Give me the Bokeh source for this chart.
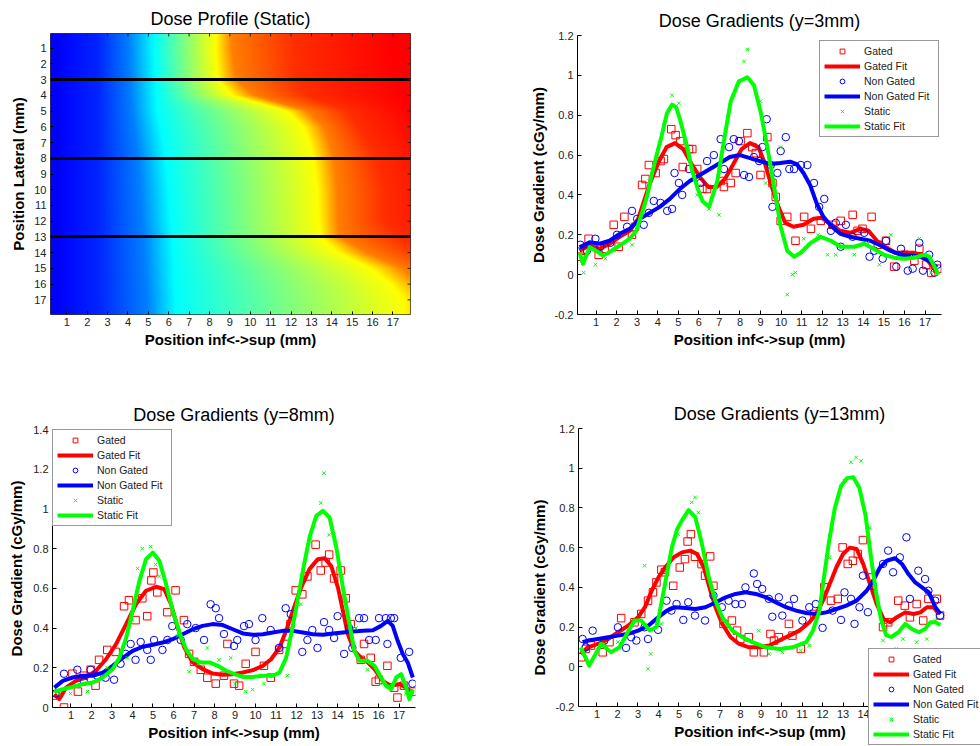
import numpy as np
from bokeh.plotting import figure
from bokeh.models import (Range1d, FixedTicker, Legend, LegendItem, CustomJSTickFormatter, LinearAxis)
from bokeh.layouts import column, row
from bokeh.embed import file_html
from bokeh.resources import INLINE

FONT = "Liberation Sans"
RED, BLUE, GREEN = "#ff0000", "#0000ff", "#00ff00"

# ---------------------------------------------------------------- data
x_ticks = list(range(1, 18))
lat_ticks = list(range(1, 18))
cut_rows = [3, 8, 13]
y_ticks_a = [-0.2, 0, 0.2, 0.4, 0.6, 0.8, 1, 1.2]
y_ticks_b = [0, 0.2, 0.4, 0.6, 0.8, 1, 1.2, 1.4]

# static dose profile: per lateral row, the inf<->sup position (mm) at which
# the jet colour reaches a given level
heat_rows = [1, 3, 4, 5, 6, 7, 8, 10, 12, 13, 14, 15, 16, 17]
heat_levels = [0.12, 0.16, 0.25, 0.375, 0.625, 0.75, 0.83, 0.875]
x_left_edge = [0.2] * 14
x_dark_blue = [2.5] * 14
x_light_blue = [4.05, 4.1, 4.15, 4.2, 4.3, 4.4, 4.5, 4.6, 4.7, 4.75, 4.8, 4.85, 4.9, 4.95]
x_cyan = [5.28, 5.36, 5.4, 5.44, 5.6, 5.75, 5.85, 6.0, 6.1, 6.18, 6.22, 6.26, 6.3, 6.35]
x_yellow = [8.3, 8.4, 9.1, 11.8, 12.6, 12.9, 13.1, 13.3, 13.37, 13.45, 14.3, 15.9, 16.9, 17.5]
x_orange = [9.1, 9.3, 10.2, 12.8, 13.6, 13.9, 14.1, 14.27, 14.3, 14.4, 15.7, 17.5, 18.4, 19.3]
x_red_orange = [12.2, 12.3, 12.8, 14.8, 15.3, 15.8, 16.2, 16.6, 16.6, 17.3, 18.5, 20, 21, 22]
x_red = [17.0, 17.2, 17.5, 18, 18.5, 19, 19.5, 20, 20, 21, 22, 23, 24, 25]

# ---- y = 3 mm
gated3_x = [0.24, 0.45, 0.64, 1.13, 1.42, 1.86, 2.1, 2.38, 2.75, 2.9, 3.24, 3.4, 3.57, 3.9, 4.14, 4.3, 4.66, 4.87,
            5.1, 5.22, 5.52, 5.68, 5.92, 6.17, 6.4, 7.06, 7.22, 7.55, 7.79, 8.03, 8.36, 8.6, 8.77, 9.0,
            9.33, 9.58, 9.74, 9.98, 10.3, 10.7, 11.12, 11.45, 11.93, 12.5, 12.9, 13.48, 13.72, 13.96,
            14.4, 14.7, 15.1, 15.5, 16.0, 16.48, 16.72, 17.05, 17.3, 17.6]
gated3_y = [0.09, 0.12, 0.18, 0.10, 0.13, 0.25, 0.14, 0.29, 0.20, 0.24, 0.45, 0.48, 0.55, 0.51, 0.57, 0.58, 0.73, 0.70,
            0.67, 0.54, 0.63, 0.63, 0.53, 0.43, 0.43, 0.47, 0.44, 0.46, 0.51, 0.67, 0.71, 0.64, 0.61, 0.50,
            0.69, 0.46, 0.39, 0.27, 0.29, 0.17, 0.29, 0.23, 0.27, 0.25, 0.27, 0.30, 0.22, 0.23,
            0.29, 0.15, 0.17, 0.04, 0.10, 0.07, 0.13, 0.05, 0.01, 0.03]
gfit3_x = [0.2, 0.69, 1.18, 1.66, 2.15, 2.64, 3.05, 3.29, 3.61, 4.02, 4.43, 4.84, 5.24, 5.65, 6.05, 6.46, 6.86,
           7.27, 7.68, 8.08, 8.49, 8.9, 9.22, 9.55, 9.87, 10.2, 10.6, 11.09, 11.58, 11.98, 12.39, 12.88,
           13.36, 13.85, 14.25, 14.66, 15.06, 15.55, 16.04, 16.45, 16.94, 17.26, 17.58]
gfit3_y = [0.12, 0.146, 0.13, 0.154, 0.19, 0.22, 0.28, 0.355, 0.455, 0.56, 0.64, 0.66, 0.63, 0.555, 0.49, 0.44, 0.44,
           0.48, 0.555, 0.63, 0.66, 0.64, 0.555, 0.44, 0.34, 0.26, 0.24, 0.25, 0.28, 0.285, 0.255, 0.22,
           0.21, 0.23, 0.22, 0.17, 0.14, 0.11, 0.11, 0.11, 0.095, 0.054, 0.012]
nongated3_x = [0.24, 0.56, 0.97, 1.21, 1.7, 2.02, 2.51, 2.75, 3.0, 3.32, 3.57, 3.81, 4.14, 4.46, 4.7, 4.82, 5.03,
               5.19, 5.52, 6.08, 6.4, 6.73, 7.06, 7.22, 7.47, 7.7, 7.95, 8.2, 8.44, 8.68, 8.93, 9.09, 9.3,
               9.5, 9.58, 9.82, 9.98, 10.23, 10.4, 10.63, 10.96, 11.28, 11.6, 11.85, 12.1, 12.42, 12.66,
               12.9, 13.15, 13.48, 14.04, 14.3, 14.53, 14.94, 15.1, 15.6, 15.83, 16.16, 16.4, 16.72, 16.9,
               17.2, 17.46, 17.6]
nongated3_y = [0.15, 0.12, 0.18, 0.14, 0.16, 0.20, 0.24, 0.32, 0.28, 0.25, 0.31, 0.37, 0.36, 0.32, 0.33, 0.51, 0.46,
               0.40, 0.53, 0.46, 0.57, 0.60, 0.68, 0.53, 0.64, 0.68, 0.67, 0.50, 0.49, 0.59, 0.57, 0.64, 0.78,
               0.55, 0.34, 0.51, 0.62, 0.69, 0.53, 0.53, 0.55, 0.55, 0.46, 0.34, 0.38, 0.22, 0.26,
               0.14, 0.25, 0.19, 0.21, 0.09, 0.12, 0.08, 0.17, 0.04, 0.13, 0.02, 0.03, 0.16, 0.02,
               0.10, 0.01, 0.05]
ngfit3_x = [0.2, 0.69, 1.18, 1.66, 2.15, 2.64, 3.13, 3.61, 4.1, 4.59, 5.08, 5.56, 6.05, 6.54, 7.03, 7.51, 8.0,
            8.49, 8.97, 9.46, 9.95, 10.44, 10.76, 11.09, 11.41, 11.74, 12.06, 12.47, 12.88, 13.36, 13.85,
            14.34, 14.83, 15.31, 15.8, 16.29, 16.77, 17.18, 17.58]
ngfit3_y = [0.137, 0.163, 0.155, 0.17, 0.205, 0.23, 0.28, 0.31, 0.34, 0.38, 0.43, 0.47, 0.50, 0.53, 0.56, 0.59, 0.60,
            0.585, 0.57, 0.555, 0.56, 0.567, 0.555, 0.51, 0.45, 0.355, 0.29, 0.24, 0.205, 0.19, 0.18,
            0.17, 0.146, 0.12, 0.10, 0.096, 0.09, 0.07, 0.037]
static3_x = [0.4, 0.97, 1.45, 1.9, 2.75, 3.6, 4.3, 4.7, 5.03, 5.5, 5.92, 6.5, 6.98, 7.3, 7.7, 8.2, 8.36, 9.0, 9.25,
             9.6, 9.98, 10.3, 10.55, 10.7, 11.1, 11.8, 12.26, 12.66, 13.0, 13.56, 14.2, 14.78, 15.34, 15.9,
             16.4, 16.72, 17.3, 17.6]
static3_y = [0.01, 0.05, 0.08, 0.12, 0.15, 0.47, 0.75, 0.90, 0.86, 0.62, 0.40, 0.33, 0.30, 0.72, 0.90, 1.07, 1.13,
             0.87, 0.46, 0.45, 0.64, -0.10, 0.0, 0.01, 0.18, 0.20, 0.10, 0.10, 0.14, 0.10, 0.16, 0.05, 0.20,
             0.08, 0.09, 0.18, 0.01, 0.01]
sfit3_x = [0.2, 0.37, 0.69, 1.0, 1.34, 1.6, 2.15, 2.64, 2.96, 3.3, 3.5, 3.75, 4.0, 4.2, 4.45, 4.7, 4.9, 5.11, 5.43,
           5.68, 5.92, 6.17, 6.5, 6.9, 7.22, 7.55, 7.95, 8.36, 8.68, 9.0, 9.33, 9.66, 9.98, 10.3, 10.63,
           10.96, 11.45, 11.93, 12.42, 12.9, 13.56, 14.04, 14.5, 15.0, 15.5, 16.0, 16.48, 16.97, 17.2,
           17.46, 17.65]
sfit3_y = [0.11, 0.054, 0.137, 0.12, 0.096, 0.11, 0.146, 0.18, 0.22, 0.33, 0.40, 0.52, 0.62, 0.70, 0.81, 0.853,
           0.84, 0.77, 0.64, 0.52, 0.44, 0.37, 0.34, 0.47, 0.67, 0.87, 0.97, 0.99, 0.95, 0.82, 0.64, 0.44,
           0.24, 0.12, 0.09, 0.11, 0.16, 0.19, 0.17, 0.14, 0.14, 0.155, 0.13, 0.10, 0.085, 0.08, 0.085,
           0.10, 0.09, 0.04, 0.0]

# ---- y = 8 mm
gated8_x = [0.25, 0.66, 1.07, 1.34, 1.63, 1.96, 2.2, 2.37, 2.77, 3.18, 3.59, 3.83, 4.15, 4.48, 4.72, 4.92, 5.02,
            5.21, 5.7, 6.1, 6.51, 6.76, 7.0, 7.33, 7.65, 8.06, 8.46, 8.63, 8.95, 9.2, 9.52, 10.0, 10.41,
            10.74, 11.15, 11.47, 11.7, 11.96, 12.28, 12.53, 12.93, 13.18, 13.42, 13.59, 13.83, 14.15,
            14.4, 14.64, 15.13, 15.29, 15.62, 15.86, 16.02, 16.43, 16.76, 16.92, 17.24, 17.65]
gated8_y = [0.06, 0.0, 0.17, 0.08, 0.16, 0.19, 0.11, 0.24, 0.29, 0.28, 0.51, 0.54, 0.44, 0.55, 0.46, 0.64, 0.68,
            0.58, 0.48, 0.59, 0.44, 0.27, 0.23, 0.19, 0.15, 0.12, 0.16, 0.32, 0.12, 0.11, 0.22, 0.28, 0.21,
            0.15, 0.29, 0.32, 0.42, 0.59, 0.57, 0.66, 0.82, 0.69, 0.73, 0.77, 0.65, 0.69,
            0.55, 0.42, 0.24, 0.32, 0.25, 0.13, 0.14, 0.21, 0.10, 0.05, 0.11, 0.08]
gfit8_x = [0.19, 0.43, 0.76, 1.24, 1.73, 2.22, 2.71, 3.2, 3.69, 4.17, 4.66, 5.15, 5.55, 5.88, 6.2, 6.53, 6.94,
           7.42, 7.91, 8.4, 8.89, 9.38, 9.87, 10.36, 10.76, 11.17, 11.49, 11.82, 12.22, 12.63, 13.04, 13.37,
           13.69, 14.02, 14.26, 14.5, 14.82, 15.15, 15.47, 15.8, 16.2, 16.61, 17.02, 17.35, 17.67]
gfit8_y = [0.067, 0.042, 0.10, 0.134, 0.151, 0.185, 0.243, 0.319, 0.42, 0.52, 0.588, 0.608, 0.596, 0.52, 0.403,
           0.302, 0.227, 0.193, 0.171, 0.165, 0.168, 0.176, 0.188, 0.21, 0.243, 0.302, 0.386, 0.487, 0.604,
           0.697, 0.747, 0.752, 0.713, 0.604, 0.487, 0.37, 0.285, 0.25, 0.227, 0.193, 0.134, 0.109, 0.118,
           0.10, 0.067]
nongated8_x = [0.25, 0.66, 1.31, 1.63, 1.96, 2.28, 2.69, 3.1, 3.42, 3.67, 3.91, 4.15, 4.4, 4.72, 4.89, 5.05, 5.46,
               5.7, 5.94, 6.35, 6.67, 7.08, 7.49, 7.81, 8.06, 8.22, 8.46, 8.95, 9.11, 9.44, 9.68, 10.0, 10.33,
               10.74, 11.15, 11.47, 11.72, 12.28, 12.53, 12.77, 13.02, 13.34, 13.59, 13.83, 14.0, 14.32,
               14.56, 14.72, 15.05, 15.29, 15.54, 15.86, 16.02, 16.35, 16.43, 16.6, 16.76, 17.08, 17.49, 17.65]
nongated8_y = [0.07, 0.17, 0.19, 0.13, 0.19, 0.16, 0.15, 0.14, 0.22, 0.27, 0.32, 0.24, 0.33, 0.29, 0.24, 0.34, 0.29,
               0.34, 0.41, 0.34, 0.42, 0.40, 0.34, 0.52, 0.50, 0.45, 0.37, 0.31, 0.34, 0.41, 0.42, 0.34, 0.45,
               0.39, 0.30, 0.50, 0.47, 0.28, 0.34, 0.39, 0.30, 0.43, 0.39, 0.35, 0.46, 0.27,
               0.40, 0.30, 0.45, 0.45, 0.34, 0.34, 0.45, 0.45, 0.32, 0.45, 0.45, 0.25, 0.28, 0.12]
ngfit8_x = [0.19, 0.6, 1.08, 1.57, 2.06, 2.55, 3.03, 3.52, 4.01, 4.5, 4.99, 5.47, 5.96, 6.45, 6.94, 7.42, 7.91,
            8.4, 8.89, 9.38, 9.87, 10.36, 10.84, 11.33, 11.82, 12.31, 12.8, 13.29, 13.77, 14.26, 14.74,
            15.23, 15.72, 16.12, 16.45, 16.69, 16.93, 17.18, 17.42, 17.67]
ngfit8_y = [0.10, 0.134, 0.151, 0.16, 0.16, 0.176, 0.21, 0.25, 0.285, 0.306, 0.316, 0.327, 0.344, 0.369, 0.394,
            0.411, 0.42, 0.415, 0.394, 0.373, 0.366, 0.369, 0.378, 0.386, 0.386, 0.378, 0.369, 0.366, 0.373,
            0.378, 0.383, 0.386, 0.389, 0.411, 0.436, 0.411, 0.336, 0.269, 0.227, 0.151]
static8_x = [0.41, 0.98, 1.8, 2.77, 3.75, 4.0, 4.25, 4.48, 4.89, 5.13, 5.3, 6.2, 6.76, 7.2, 7.65, 8.22, 8.79, 9.0,
             9.52, 9.85, 10.41, 10.9, 11.55, 12.2, 12.7, 13.18, 13.34, 13.59, 13.9, 14.4, 14.9, 15.46, 16.11,
             16.52, 17.33]
static8_y = [0.07, 0.07, 0.08, 0.20, 0.25, 0.44, 0.70, 0.80, 0.81, 0.72, 0.66, 0.36, 0.18, 0.22, 0.30, 0.24, 0.25,
             0.12, 0.08, 0.09, 0.12, 0.16, 0.16, 0.52, 0.85, 1.03, 1.18, 0.87, 0.83, 0.52, 0.40, 0.19, 0.12,
             0.11, 0.07]
sfit8_x = [0.19, 0.6, 1.08, 1.57, 2.06, 2.55, 3.03, 3.36, 3.69, 4.01, 4.34, 4.66, 4.99, 5.31, 5.64, 5.96, 6.29,
           6.61, 6.94, 7.35, 7.76, 8.16, 8.57, 8.98, 9.38, 9.87, 10.36, 10.84, 11.17, 11.49, 11.74, 11.98,
           12.31, 12.63, 12.96, 13.29, 13.61, 13.94, 14.26, 14.58, 14.82, 15.07, 15.47, 15.8, 16.12, 16.37,
           16.61, 16.86, 17.1, 17.35, 17.5, 17.67]
sfit8_y = [0.08, 0.092, 0.104, 0.118, 0.126, 0.151, 0.193, 0.25, 0.35, 0.487, 0.638, 0.747, 0.78, 0.739, 0.62,
           0.487, 0.378, 0.294, 0.243, 0.227, 0.227, 0.21, 0.185, 0.168, 0.154, 0.154, 0.16, 0.16, 0.176,
           0.25, 0.37, 0.50, 0.69, 0.856, 0.965, 0.99, 0.957, 0.806, 0.604, 0.42, 0.285, 0.235, 0.235, 0.21,
           0.151, 0.109, 0.092, 0.151, 0.168, 0.10, 0.042, 0.092]

# ---- y = 13 mm
gated13_x = [0.21, 0.46, 0.71, 1.28, 1.61, 2.18, 2.83, 3.16, 3.49, 3.73, 3.9, 4.14, 4.31, 4.72, 5.04, 5.29, 5.42,
             5.58, 5.78, 6.1, 6.27, 6.52, 6.68, 7.17, 7.58, 7.83, 7.99, 8.4, 8.65, 9.14, 9.46, 9.63, 9.87,
             10.36, 10.53, 10.94, 11.59, 12.08, 12.41, 12.74, 12.98, 13.23, 13.48, 13.72, 13.97, 14.38,
             14.95, 15.2, 15.69, 16.01, 16.26, 16.59, 16.91, 17.16, 17.57, 17.73]
gated13_y = [0.048, 0.09, 0.107, 0.073, 0.124, 0.245, 0.224, 0.266, 0.333, 0.375, 0.425, 0.489, 0.476, 0.408,
             0.50, 0.542, 0.631, 0.668, 0.554, 0.517, 0.459, 0.556, 0.408, 0.216, 0.233, 0.182, 0.14, 0.149,
             0.073, 0.073, 0.165, 0.132, 0.149, 0.216, 0.157, 0.09, 0.266, 0.40, 0.333, 0.342, 0.601, 0.518,
             0.534, 0.568, 0.638, 0.45, 0.20, 0.224, 0.333, 0.308, 0.249, 0.316, 0.233, 0.342, 0.342, 0.258]
gfit13_x = [0.21, 0.56, 1.05, 1.54, 2.03, 2.52, 3.01, 3.34, 3.67, 4.0, 4.32, 4.73, 5.14, 5.55, 5.88, 6.21, 6.53,
            6.78, 7.11, 7.52, 7.93, 8.42, 8.91, 9.4, 9.89, 10.38, 10.87, 11.36, 11.69, 12.02, 12.35, 12.67,
            13.0, 13.33, 13.66, 13.98, 14.31, 14.64, 14.97, 15.29, 15.62, 16.03, 16.44, 16.77, 17.09, 17.42,
            17.67]
gfit13_y = [0.064, 0.098, 0.115, 0.14, 0.174, 0.207, 0.25, 0.30, 0.383, 0.45, 0.50, 0.55, 0.576, 0.585, 0.568,
            0.50, 0.383, 0.30, 0.216, 0.149, 0.115, 0.098, 0.098, 0.107, 0.132, 0.157, 0.182, 0.224, 0.266,
            0.333, 0.417, 0.50, 0.568, 0.60, 0.593, 0.518, 0.417, 0.316, 0.241, 0.224, 0.25, 0.274, 0.266,
            0.274, 0.30, 0.30, 0.266]
nongated13_x = [0.3, 0.46, 0.79, 1.36, 2.02, 2.42, 2.67, 2.92, 3.32, 3.49, 3.98, 4.39, 4.63, 4.88, 5.21, 5.45,
                5.78, 6.27, 6.68, 7.09, 7.42, 7.75, 8.07, 8.24, 8.65, 8.81, 9.06, 9.38, 9.55, 9.87, 10.04,
                10.36, 10.61, 11.02, 11.35, 11.67, 12.0, 12.49, 12.9, 13.07, 13.39, 13.56, 13.8, 13.97,
                14.21, 14.46, 14.95, 15.2, 15.44, 15.77, 16.09, 16.26, 16.67, 17.0, 17.16, 17.49, 17.73]
nongated13_y = [0.14, 0.098, 0.182, 0.132, 0.199, 0.095, 0.149, 0.132, 0.199, 0.14, 0.186, 0.333, 0.283, 0.316,
                0.236, 0.325, 0.258, 0.233, 0.358, 0.30, 0.333, 0.316, 0.316, 0.40, 0.47, 0.417, 0.392, 0.342,
                0.252, 0.35, 0.258, 0.308, 0.342, 0.233, 0.30, 0.316, 0.196, 0.283, 0.236, 0.375, 0.342,
                0.216, 0.30, 0.459, 0.275, 0.408, 0.518, 0.585, 0.476, 0.551, 0.652, 0.342, 0.484, 0.442,
                0.383, 0.333, 0.258]
ngfit13_x = [0.3, 0.56, 1.05, 1.54, 2.03, 2.52, 3.01, 3.5, 4.0, 4.41, 4.81, 5.31, 5.8, 6.29, 6.78, 7.27, 7.76,
             8.25, 8.74, 9.24, 9.73, 10.22, 10.71, 11.2, 11.69, 12.18, 12.67, 13.16, 13.66, 14.15, 14.47,
             14.8, 15.13, 15.54, 15.87, 16.19, 16.52, 16.85, 17.18, 17.5, 17.75]
ngfit13_y = [0.124, 0.132, 0.14, 0.149, 0.157, 0.166, 0.182, 0.207, 0.25, 0.283, 0.30, 0.296, 0.291, 0.30, 0.324,
             0.35, 0.367, 0.375, 0.367, 0.35, 0.324, 0.30, 0.283, 0.271, 0.266, 0.274, 0.291, 0.308, 0.333,
             0.383, 0.434, 0.50, 0.534, 0.547, 0.518, 0.467, 0.425, 0.40, 0.375, 0.30, 0.266]
static13_x = [0.46, 1.36, 2.02, 3.32, 3.49, 3.62, 4.14, 4.96, 5.62, 5.78, 5.94, 7.09, 7.91, 8.89, 9.38, 10.04,
              10.94, 11.35, 12.33, 13.07, 13.39, 13.64, 13.88, 14.3, 14.95, 15.6, 15.93, 16.59, 17.08, 17.49]
static13_y = [0.048, 0.115, 0.124, 0.509, -0.01, 0.065, 0.216, 0.668, 0.828, 0.853, 0.777, 0.233, 0.157, 0.182,
              0.065, 0.073, 0.082, 0.107, 0.551, 0.937, 1.03, 1.054, 1.037, 0.70, 0.132, 0.09, 0.14, 0.124,
              0.14, 0.233]
sfit13_x = [0.21, 0.62, 1.2, 1.69, 2.1, 2.5, 2.83, 3.16, 3.57, 3.9, 4.05, 4.32, 4.65, 4.9, 5.13, 5.47, 5.8, 6.12,
            6.45, 6.78, 7.11, 7.6, 8.09, 8.58, 9.24, 9.89, 10.54, 11.2, 11.53, 11.85, 12.0, 12.3, 12.6, 12.9,
            13.2, 13.5, 13.8, 14.1, 14.35, 14.6, 14.85, 15.1, 15.35, 15.7, 16.03, 16.36, 16.68, 17.0, 17.26,
            17.5, 17.75]
sfit13_y = [0.098, 0.006, 0.115, 0.073, 0.098, 0.174, 0.233, 0.233, 0.183, 0.20, 0.27, 0.417, 0.60, 0.69, 0.735,
            0.789, 0.752, 0.618, 0.45, 0.333, 0.25, 0.182, 0.149, 0.124, 0.098, 0.09, 0.098, 0.124, 0.182,
            0.283, 0.40, 0.62, 0.80, 0.91, 0.95, 0.955, 0.90, 0.76, 0.56, 0.38, 0.24, 0.16, 0.15, 0.174,
            0.216, 0.19, 0.174, 0.19, 0.224, 0.224, 0.21]

# ---------------------------------------------------------------- helpers
X_LO, X_HI = 0.1, 17.8
X_LABEL = "Position inf<->sup (mm)"


def style_axis(ax, tick_len=4):
    ax.major_tick_in = tick_len
    ax.major_tick_out = 0
    ax.minor_tick_in = 0
    ax.minor_tick_out = 0
    ax.axis_line_color = "black"
    ax.major_tick_line_color = "black"
    ax.major_label_text_font = FONT
    ax.major_label_text_font_size = "11px"
    ax.major_label_text_color = "#222222"
    ax.axis_label_text_font = FONT
    ax.axis_label_text_font_size = "15px"
    ax.axis_label_text_font_style = "bold"
    ax.axis_label_text_color = "black"
    ax.major_label_standoff = 4


def style_title(p):
    p.title.text_font = FONT
    p.title.text_font_size = "18px"
    p.title.text_font_style = "normal"
    p.title.text_color = "black"
    p.title.align = "center"
    p.title.standoff = 10


def jet(v):
    r = np.clip(1.5 - np.abs(4 * v - 3), 0, 1)
    g = np.clip(1.5 - np.abs(4 * v - 2), 0, 1)
    b = np.clip(1.5 - np.abs(4 * v - 1), 0, 1)
    return r, g, b


# ---------------------------------------------------------------- heatmap
HX0, HX1 = 0.2, 17.86
HY0, HY1 = 0.07, 17.93
p1 = figure(width=498, height=370, title="Dose Profile (Static)",
            x_range=Range1d(HX0, HX1), y_range=Range1d(HY1, HY0),
            output_backend="svg", toolbar_location=None, frame_align=False,
            min_border_left=50, min_border_right=88, min_border_top=33, min_border_bottom=56)
style_title(p1)
p1.grid.visible = False
p1.background_fill_color = "white"
p1.border_fill_color = "white"
p1.outline_line_color = "#333333"
p1.outline_line_width = 1

nxp, nyp = 360, 281
xs = HX0 + (np.arange(nxp) + 0.5) * (HX1 - HX0) / nxp
ys = HY0 + (np.arange(nyp) + 0.5) * (HY1 - HY0) / nyp
landmarks = [x_left_edge, x_dark_blue, x_light_blue, x_cyan, x_yellow, x_orange, x_red_orange, x_red]
lm_rows = [np.interp(ys, heat_rows, lm) for lm in landmarks]
vals = np.empty((nyp, nxp))
for j in range(nyp):
    knots = [lm[j] for lm in lm_rows]
    vals[j] = np.interp(xs, knots, heat_levels)
r, g, b = jet(vals)
img = np.empty((nyp, nxp), dtype=np.uint32)
view = img.view(dtype=np.uint8).reshape((nyp, nxp, 4))
view[:, :, 0] = (r * 255).astype(np.uint8)
view[:, :, 1] = (g * 255).astype(np.uint8)
view[:, :, 2] = (b * 255).astype(np.uint8)
view[:, :, 3] = 255
p1.image_rgba(image=[img], x=HX0, y=HY0, dw=HX1 - HX0, dh=HY1 - HY0)
p1.hspan(y=cut_rows, line_color="black", line_width=3)
# mirrored inward ticks on the top and right edges (half of each dash is clipped by the frame)
p1.scatter(x=x_ticks, y=[HY0] * len(x_ticks), marker="dash", angle=np.pi / 2, size=6,
           line_color="#222222", line_width=1)
p1.scatter(x=[HX1] * len(lat_ticks), y=lat_ticks, marker="dash", size=6,
           line_color="#222222", line_width=1)

p1.xaxis.ticker = FixedTicker(ticks=x_ticks)
p1.yaxis.ticker = FixedTicker(ticks=lat_ticks)
p1.xaxis.axis_label = X_LABEL
p1.yaxis.axis_label = "Position Lateral (mm)"
for ax in p1.xaxis + p1.yaxis:
    style_axis(ax, 3)
    ax.axis_line_color = None
p1.xaxis.major_label_standoff = 3
p1.xaxis.axis_label_standoff = 2
p1.yaxis.axis_label_standoff = 4


# ---------------------------------------------------------------- gradient panels
def gradient_panel(title, y_lo, y_hi, y_ticks, series, w, h, borders, legend_loc, overflow=None):
    """overflow=(frame_w_px, frame_h_px, plot_w_px, plot_h_px): the frame runs on to the right
    and bottom edges of the canvas, so the legend can hang over the x axis area as in the
    original; the x axis is then pinned at y = y_lo inside that frame."""
    bl, br, bt, bb = borders
    if overflow is None:
        xr, yr = Range1d(X_LO, X_HI), Range1d(y_lo, y_hi)
        p = figure(width=w, height=h, title=title, x_range=xr, y_range=yr,
                   output_backend="svg", toolbar_location=None, frame_align=False,
                   min_border_left=bl, min_border_right=br, min_border_top=bt, min_border_bottom=bb)
        xax = p.xaxis[0]
    else:
        fw, fh, pw, ph = overflow
        xr = Range1d(X_LO, X_LO + (X_HI - X_LO) * fw / pw)
        yr = Range1d(y_hi - (y_hi - y_lo) * fh / ph, y_hi)
        p = figure(width=w, height=h, title=title, x_range=xr, y_range=yr,
                   output_backend="svg", toolbar_location=None, x_axis_location=None, frame_align=False,
                   min_border_left=bl, min_border_right=br, min_border_top=bt, min_border_bottom=bb)
        xax = LinearAxis(fixed_location=y_lo, bounds=(X_LO, X_HI))
        p.add_layout(xax, "below")
        p.yaxis.bounds = (y_lo, y_hi)
    style_title(p)
    p.grid.visible = False
    p.outline_line_color = None
    p.background_fill_color = "white"
    p.border_fill_color = "white"
    gx, gy, gfx, gfy, nx, ny, nfx, nfy, sx, sy, sfx, sfy = series
    r1 = p.scatter(gx, gy, marker="square", size=7.5, fill_color=None, line_color=RED, line_width=1)
    r2 = p.line(gfx, gfy, line_color=RED, line_width=4, line_join="round")
    r3 = p.scatter(nx, ny, marker="circle", size=7.5, fill_color=None, line_color=BLUE, line_width=1)
    r4 = p.line(nfx, nfy, line_color=BLUE, line_width=4, line_join="round")
    r5 = p.scatter(sx, sy, marker="x", size=5, line_color=GREEN, line_width=1)
    r6 = p.line(sfx, sfy, line_color=GREEN, line_width=4, line_join="round")
    xax.ticker = FixedTicker(ticks=x_ticks)
    xax.axis_label = X_LABEL
    p.yaxis.ticker = FixedTicker(ticks=y_ticks)
    p.yaxis.formatter = CustomJSTickFormatter(code="return (Math.round(tick*10)/10).toString();")
    p.yaxis.axis_label = "Dose Gradient (cGy/mm)"
    for ax in [xax] + list(p.yaxis):
        style_axis(ax, 4)
    xax.major_label_standoff = 3
    xax.axis_label_standoff = 2
    p.yaxis.axis_label_standoff = 5
    legend = Legend(items=[
        LegendItem(label="Gated", renderers=[r1]),
        LegendItem(label="Gated Fit", renderers=[r2]),
        LegendItem(label="Non Gated", renderers=[r3]),
        LegendItem(label="Non Gated Fit", renderers=[r4]),
        LegendItem(label="Static", renderers=[r5]),
        LegendItem(label="Static Fit", renderers=[r6]),
    ], location=legend_loc)
    legend.label_text_font = FONT
    legend.label_text_font_size = "10.5px"
    legend.label_text_color = "#222222"
    legend.border_line_color = "#333333"
    legend.border_line_width = 1
    legend.background_fill_color = "white"
    legend.background_fill_alpha = 1
    legend.padding = 4
    legend.spacing = 3
    legend.glyph_width = 36
    legend.glyph_height = 12
    legend.label_height = 12
    legend.label_width = 70
    legend.label_standoff = 4
    legend.margin = 0
    p.add_layout(legend)
    return p


p2 = gradient_panel("Dose Gradients (y=3mm)", -0.2, 1.2, y_ticks_a,
                    (gated3_x, gated3_y, gfit3_x, gfit3_y, nongated3_x, nongated3_y, ngfit3_x, ngfit3_y,
                     static3_x, static3_y, sfit3_x, sfit3_y),
                    482, 370, (79, 39, 35, 56), (242, 177))
p3 = gradient_panel("Dose Gradients (y=8mm)", 0, 1.4, y_ticks_b,
                    (gated8_x, gated8_y, gfit8_x, gfit8_y, nongated8_x, nongated8_y, ngfit8_x, ngfit8_y,
                     static8_x, static8_y, sfit8_x, sfit8_y),
                    498, 376, (52, 83, 59, 39), "top_left")
# frame 402 x 318 px, of which 363 x 278 px hold the 0.1..17.8 mm by -0.2..1.2 plot area
p4 = gradient_panel("Dose Gradients (y=13mm)", -0.2, 1.2, y_ticks_a,
                    (gated13_x, gated13_y, gfit13_x, gfit13_y, nongated13_x, nongated13_y, ngfit13_x, ngfit13_y,
                     static13_x, static13_y, sfit13_x, sfit13_y),
                    482, 376, (80, 0, 58, 0), (290, 1), overflow=(402, 318, 363, 278))

layout = column(row(p1, p2), row(p3, p4))
open("out.html", "w").write(file_html(layout, INLINE))
